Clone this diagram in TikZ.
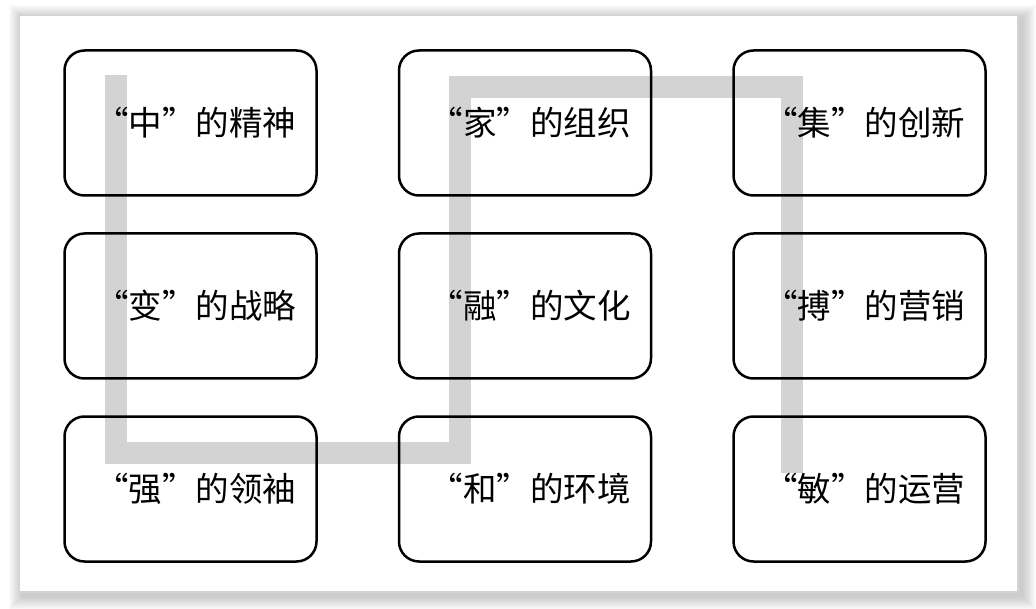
\documentclass[tikz,border=0pt]{standalone}
\usepackage{fontspec}
\newfontfamily\cjk{Noto Sans CJK SC}[RawFeature=+fwid]
\usetikzlibrary{positioning}
\definecolor{routeGray}{RGB}{211, 211, 211}
\definecolor{frameGray}{RGB}{212, 212, 212}

\begin{document}
\begin{tikzpicture}[
    x=1pt, y=-1pt,
    % Node styles
    cell/.style={
        rectangle,
        rounded corners=20pt,
        minimum width=252pt,
        minimum height=145pt,
        inner sep=0pt,
        draw=black,
        line width=2.5pt,
        font=\cjk\fontsize{33.5}{36}\selectfont
    },
    % Route style
    route/.style={
        draw=routeGray,
        line width=22pt
    },
    % Frame style
    frame/.style={
        draw=frameGray,
        fill=white,
        line width=2pt
    }
]
\useasboundingbox (0,0) rectangle (1036,609);

% ============================================
% FRAME WITH SOFT SHADOW
% ============================================
\foreach \i in {1,...,14} {
    \fill[black, opacity=0.016] ({23-\i},{19-\i}) rectangle ({1022+\i},{596+\i});
}
\draw[frame] (19,15) rectangle (1018,592);

% ============================================
% ROUTE (behind the cells)
% ============================================
\coordinate (r1) at (116,75);
\coordinate (r2) at (116,453);
\coordinate (r3) at (460,453);
\coordinate (r4) at (460,87);
\coordinate (r5) at (792,87);
\coordinate (r6) at (792,473);
\draw[route] (r1) -- (r2) -- (r3) -- (r4) -- (r5) -- (r6);

% ============================================
% ROW 1
% ============================================
\node[cell] (zhong) at (190.5,123) {\hspace{10pt}“中”的精神};
\node[cell, right=80pt of zhong] (jia) {\hspace{10pt}“家”的组织};
\node[cell, right=80pt of jia] (ji) {\hspace{10pt}“集”的创新};

% ============================================
% ROW 2
% ============================================
\node[cell, below=35.5pt of zhong] (bian) {\hspace{10pt}“变”的战略};
\node[cell, right=80pt of bian] (rong) {\hspace{10pt}“融”的文化};
\node[cell, right=80pt of rong] (bo) {\hspace{10pt}“搏”的营销};

% ============================================
% ROW 3
% ============================================
\node[cell, below=35.5pt of bian] (qiang) {\hspace{10pt}“强”的领袖};
\node[cell, right=80pt of qiang] (he) {\hspace{10pt}“和”的环境};
\node[cell, right=80pt of he] (min) {\hspace{10pt}“敏”的运营};

\end{tikzpicture}
\end{document}
